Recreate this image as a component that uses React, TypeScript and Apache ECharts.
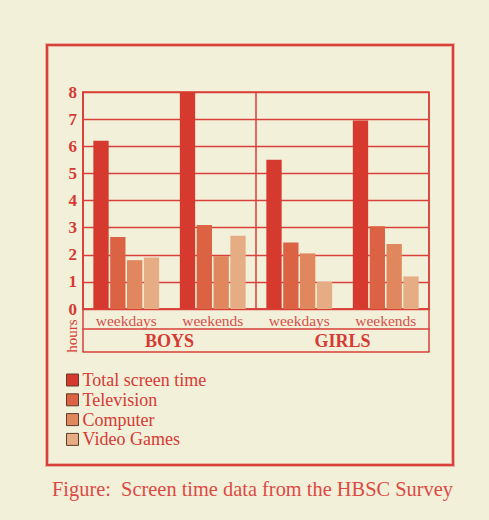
import React, { useEffect, useRef } from "react";
import * as echarts from "echarts";

const categories = ["weekdays", "weekends", "weekdays", "weekends"];
const groups = ["BOYS", "GIRLS"];
const seriesNames = ["Total screen time", "Television", "Computer", "Video Games"];
const totalScreen = [6.2, 8.0, 5.5, 6.95];
const television = [2.65, 3.1, 2.45, 3.05];
const computer = [1.8, 1.95, 2.05, 2.4];
const videoGames = [1.9, 2.7, 1.0, 1.2];
const yTicks = [0, 1, 2, 3, 4, 5, 6, 7, 8];

const RED = "#d9403a";
const TEXT = "#d63a34";
const FONT = "'Liberation Serif', 'DejaVu Serif', serif";
const colors = ["#d63a2f", "#db6344", "#e0875e", "#e6ad84"];

export default function App() {
  const ref = useRef<HTMLDivElement>(null);
  useEffect(() => {
    if (!ref.current) return;
    const chart = echarts.init(ref.current, undefined, { renderer: "svg" });
    const gL = 83, gT = 92, gW = 346, gH = 217;
    const values = [totalScreen, television, computer, videoGames];
    chart.setOption({
      animation: false,
      backgroundColor: "#f3f0da",
      textStyle: { fontFamily: FONT },
      grid: {
        left: gL, top: gT, width: gW, height: gH,
        show: true, borderColor: RED, borderWidth: 1.5, backgroundColor: "transparent",
      },
      legend: {
        orient: "vertical", left: 61, top: 366,
        itemWidth: 12, itemHeight: 12, itemGap: 1.8,
        icon: "rect",
        data: seriesNames,
        textStyle: { fontFamily: FONT, fontSize: 18, color: TEXT, padding: [0, 0, 0, -1] },
        itemStyle: { borderColor: "#5e3b2c", borderWidth: 1 },
      },
      xAxis: [
        {
          type: "category", data: categories, position: "bottom",
          axisLine: { show: true, lineStyle: { color: RED, width: 1.5 } },
          axisTick: { show: false },
          axisLabel: { fontFamily: FONT, fontSize: 15.5, color: "#d5504a", margin: 3 },
        },
        {
          type: "category", data: groups, position: "bottom", offset: 20,
          axisLine: { show: true, lineStyle: { color: RED, width: 1.5 } },
          axisTick: { show: false },
          axisLabel: { show: false },
          splitLine: { show: true, lineStyle: { color: RED, width: 1.5 } },
        },
        {
          type: "category", data: groups, position: "bottom", offset: 43,
          axisLine: { show: true, lineStyle: { color: RED, width: 1.5 } },
          axisTick: { show: false },
          axisLabel: {
            fontFamily: FONT, fontSize: 18, fontWeight: "bold", color: TEXT,
            verticalAlign: "middle", margin: -11,
          },
        },
      ],
      yAxis: {
        type: "value", min: 0, max: 8, interval: 1,
        axisLine: { show: true, lineStyle: { color: RED, width: 1.5 } },
        axisTick: { show: false },
        axisLabel: {
          fontFamily: FONT, fontSize: 17, fontWeight: "bold", color: TEXT, margin: 6,
          formatter: (v: number) => (yTicks.includes(v) ? String(v) : ""),
        },
        splitLine: { show: true, lineStyle: { color: RED, width: 1.3 } },
      },
      series: seriesNames.map((name, i) => ({
        name, type: "bar", xAxisIndex: 0, data: values[i],
        barWidth: 15.3, barGap: "10%",
        itemStyle: { color: colors[i] },
      })),
      graphic: [
        { type: "rect", shape: { x: 47, y: 45, width: 406, height: 420 }, style: { fill: "none", stroke: "rgba(214,64,58,0.35)", lineWidth: 4 }, silent: true },
        { type: "rect", shape: { x: 47, y: 45, width: 406, height: 420 }, style: { fill: "none", stroke: RED, lineWidth: 2 }, silent: true },
        { type: "line", shape: { x1: gL, y1: gT + gH, x2: gL, y2: gT + gH + 43 }, style: { stroke: RED, lineWidth: 1.5 }, silent: true },
        { type: "line", shape: { x1: gL + gW, y1: gT + gH, x2: gL + gW, y2: gT + gH + 43 }, style: { stroke: RED, lineWidth: 1.5 }, silent: true },
        {
          type: "text", x: 72, y: 336, rotation: Math.PI / 2,
          style: { text: "hours", font: `15px ${FONT}`, fill: TEXT, align: "center", verticalAlign: "middle" },
          silent: true,
        },
        {
          type: "text", x: 52, y: 489,
          style: { text: "Figure:  Screen time data from the HBSC Survey", font: `20.4px ${FONT}`, fill: "#dc4a44", verticalAlign: "middle" },
          silent: true,
        },
      ],
    });
    return () => chart.dispose();
  }, []);
  return <div ref={ref} style={{ position: "fixed", left: 0, top: 0, width: 489, height: 520 }} />;
}
